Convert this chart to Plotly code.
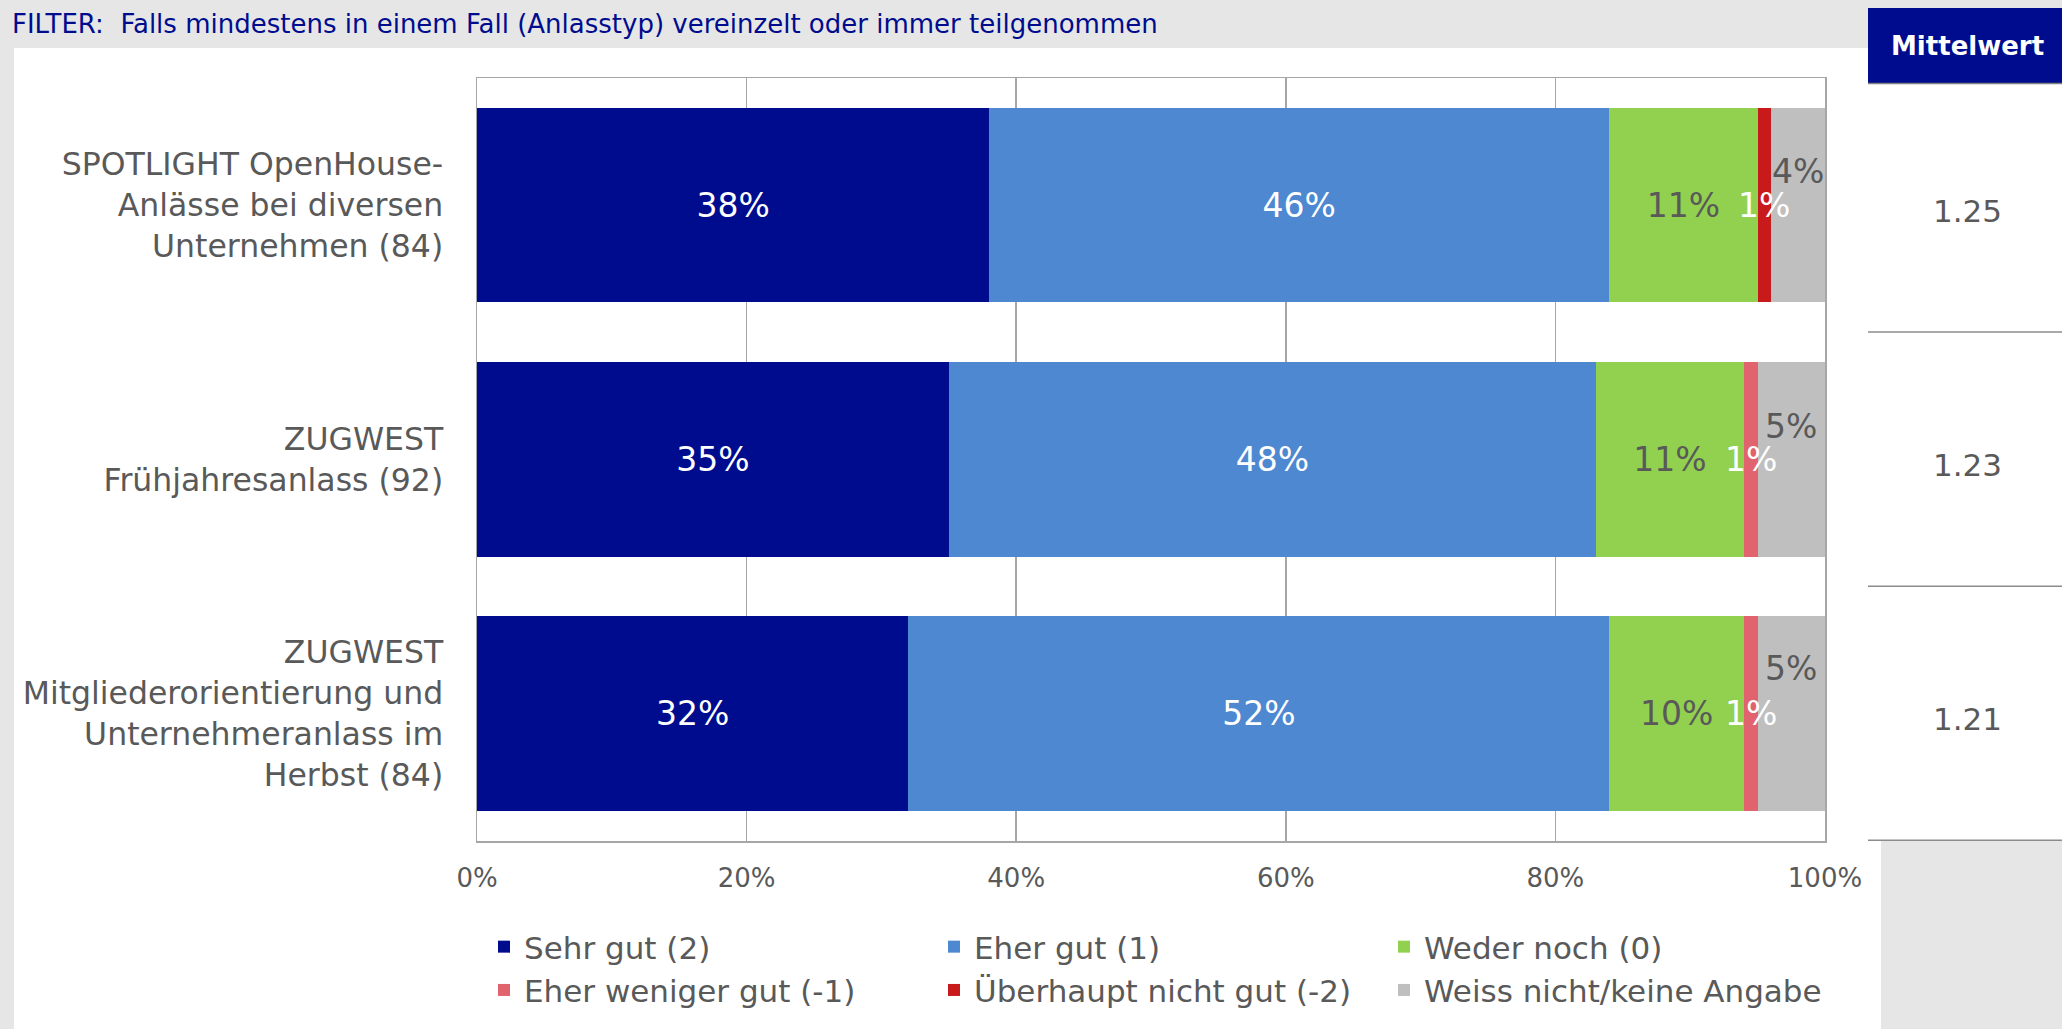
import plotly.graph_objects as go

# ---------------- data ----------------
categories = [
    "SPOTLIGHT OpenHouse-<br>Anlässe bei diversen<br>Unternehmen (84)",
    "ZUGWEST<br>Frühjahresanlass (92)",
    "ZUGWEST<br>Mitgliederorientierung und<br>Unternehmeranlass im<br>Herbst (84)",
]
series_names = [
    "Sehr gut (2)",
    "Eher gut (1)",
    "Weder noch (0)",
    "Eher weniger gut (-1)",
    "Überhaupt nicht gut (-2)",
    "Weiss nicht/keine Angabe",
]
sehr_gut = [38.0, 35.0, 32.0]
eher_gut = [46.0, 48.0, 52.0]
weder_noch = [11.0, 11.0, 10.0]
eher_weniger_gut = [0.0, 1.0, 1.0]
ueberhaupt_nicht_gut = [1.0, 0.0, 0.0]
weiss_nicht = [4.0, 5.0, 5.0]
mittelwert = [1.25, 1.23, 1.21]
x_tick_values = [0, 20, 40, 60, 80, 100]
x_tick_labels = ["0%", "20%", "40%", "60%", "80%", "100%"]
title_text = "FILTER:&nbsp; Falls mindestens in einem Fall (Anlasstyp) vereinzelt oder immer teilgenommen"
header_text = "Mittelwert"

series_values = [sehr_gut, eher_gut, weder_noch, eher_weniger_gut,
                 ueberhaupt_nicht_gut, weiss_nicht]

# ---------------- style ----------------
FONT = "DejaVu Sans"
GREY_TXT = "#595959"
NAVY = "#000C8E"
colors = ["#000C8E", "#4D88D1", "#92D050", "#E0636D", "#C8191B", "#BFBFBF"]
label_colors = ["white", "white", GREY_TXT, "white", "white", GREY_TXT]
gray_label_lift = [34, 33, 45]
SMALL = 3.0  # segments narrower than this get their label as an overlay annotation
LBL = 33

W, H = 2062, 1029
L, R, T, B = 477, 237, 78, 188
PW = W - L - R
PH = H - T - B


def px(x):
    return (x - L) / PW


def py(y):
    return (H - B - y) / PH


fig = go.Figure()
last = len(series_names) - 1
annotations = []
for i, (name, vals) in enumerate(zip(series_names, series_values)):
    texts = []
    for j, v in enumerate(vals):
        if i == last or v <= 0 or v < SMALL:
            texts.append("")
        else:
            texts.append(f"{round(v)}%")
    fig.add_trace(go.Bar(
        y=categories, x=vals, name=name, orientation="h",
        marker=dict(color=colors[i], line=dict(width=0)),
        text=texts, textposition="inside", insidetextanchor="middle",
        constraintext="none", textangle=0,
        textfont=dict(family=FONT, size=LBL, color=label_colors[i]),
        insidetextfont=dict(family=FONT, size=LBL, color=label_colors[i]),
        cliponaxis=False, hoverinfo="skip",
    ))

# overlay labels: tiny segments and the lifted "Weiss nicht" labels
for j, cat in enumerate(categories):
    start = 0.0
    for i in range(len(series_values)):
        v = series_values[i][j]
        if v > 0 and (i == last or v < SMALL):
            annotations.append(dict(
                x=start + v / 2, y=cat, xref="x", yref="y",
                text=f"{round(v)}%", showarrow=False,
                yshift=gray_label_lift[j] if i == last else 0,
                font=dict(family=FONT, size=LBL, color=label_colors[i]),
            ))
        start += v

# Mittelwert column values
for j, cat in enumerate(categories):
    annotations.append(dict(
        x=px(1967), y=cat, xref="paper", yref="y",
        text=f"{mittelwert[j]:.2f}", showarrow=False, yshift=-6,
        xanchor="center", font=dict(family=FONT, size=31, color=GREY_TXT),
    ))

annotations.append(dict(
    x=px(1967), y=py(46), xref="paper", yref="paper",
    text=f"<b>{header_text}</b>", showarrow=False,
    xanchor="center", yanchor="middle",
    font=dict(family=FONT, size=26, color="white"),
))
annotations.append(dict(
    x=px(10), y=py(24), xref="paper", yref="paper",
    text=title_text, showarrow=False, xanchor="left", yanchor="middle",
    font=dict(family=FONT, size=26, color=NAVY),
))

shapes = [
    # main white panel
    dict(type="rect", xref="paper", yref="paper",
         x0=px(14), x1=px(1881), y0=py(1029), y1=py(48),
         fillcolor="white", line=dict(width=0), layer="below"),
    # right column white
    dict(type="rect", xref="paper", yref="paper",
         x0=px(1868), x1=px(2062), y0=py(840), y1=py(83),
         fillcolor="white", line=dict(width=0), layer="below"),
    # header box
    dict(type="rect", xref="paper", yref="paper",
         x0=px(1868), x1=px(2062), y0=py(83), y1=py(8),
         fillcolor=NAVY, line=dict(width=0), layer="above"),
    dict(type="line", xref="paper", yref="paper",
         x0=px(1868), x1=px(2062), y0=py(83.5), y1=py(83.5),
         line=dict(color="#7F7F7F", width=1.5)),
]
for b in [0.5, 1.5, 2.5]:
    shapes.append(dict(type="line", xref="paper", yref="y",
                       x0=px(1868), x1=px(2062), y0=b, y1=b,
                       line=dict(color="#8C8C8C", width=1.5)))

fig.update_layout(
    width=W, height=H, autosize=False,
    margin=dict(l=L, r=R, t=T, b=B, pad=0, autoexpand=False),
    paper_bgcolor="#E6E6E6", plot_bgcolor="white",
    barmode="stack", bargap=0.233,
    font=dict(family=FONT, color=GREY_TXT),
    showlegend=True,
    legend=dict(
        orientation="h", x=px(484), xanchor="left",
        y=py(920), yanchor="top", entrywidth=405, entrywidthmode="pixels",
        traceorder="normal", bgcolor="rgba(0,0,0,0)",
        font=dict(family=FONT, size=31, color=GREY_TXT),
        itemclick=False, itemdoubleclick=False,
    ),
    xaxis=dict(
        range=[0, 100], tickvals=x_tick_values, ticktext=x_tick_labels,
        showgrid=True, gridcolor="#A6A6A6", gridwidth=1.5,
        showline=True, mirror=True, linecolor="#A6A6A6", linewidth=1.5,
        zeroline=False, ticks="", ticklabelstandoff=13,
        tickfont=dict(family=FONT, size=26, color=GREY_TXT), fixedrange=True,
    ),
    yaxis=dict(
        type="category", categoryorder="array", categoryarray=categories,
        autorange="reversed", showgrid=False,
        showline=True, mirror=True, linecolor="#A6A6A6", linewidth=1.5,
        ticks="", ticklabelstandoff=26,
        tickfont=dict(family=FONT, size=31.5, color=GREY_TXT), fixedrange=True,
    ),
    annotations=annotations,
    shapes=shapes,
    hovermode=False,
)

fig.write_html(
    "out.html",
    config={"displayModeBar": False, "staticPlot": True},
    post_script=(
        "document.body.style.margin='0px';"
        "document.body.style.padding='0px';"
        "document.body.style.overflow='hidden';"
        "document.body.style.background='#E6E6E6';"
    ),
)
